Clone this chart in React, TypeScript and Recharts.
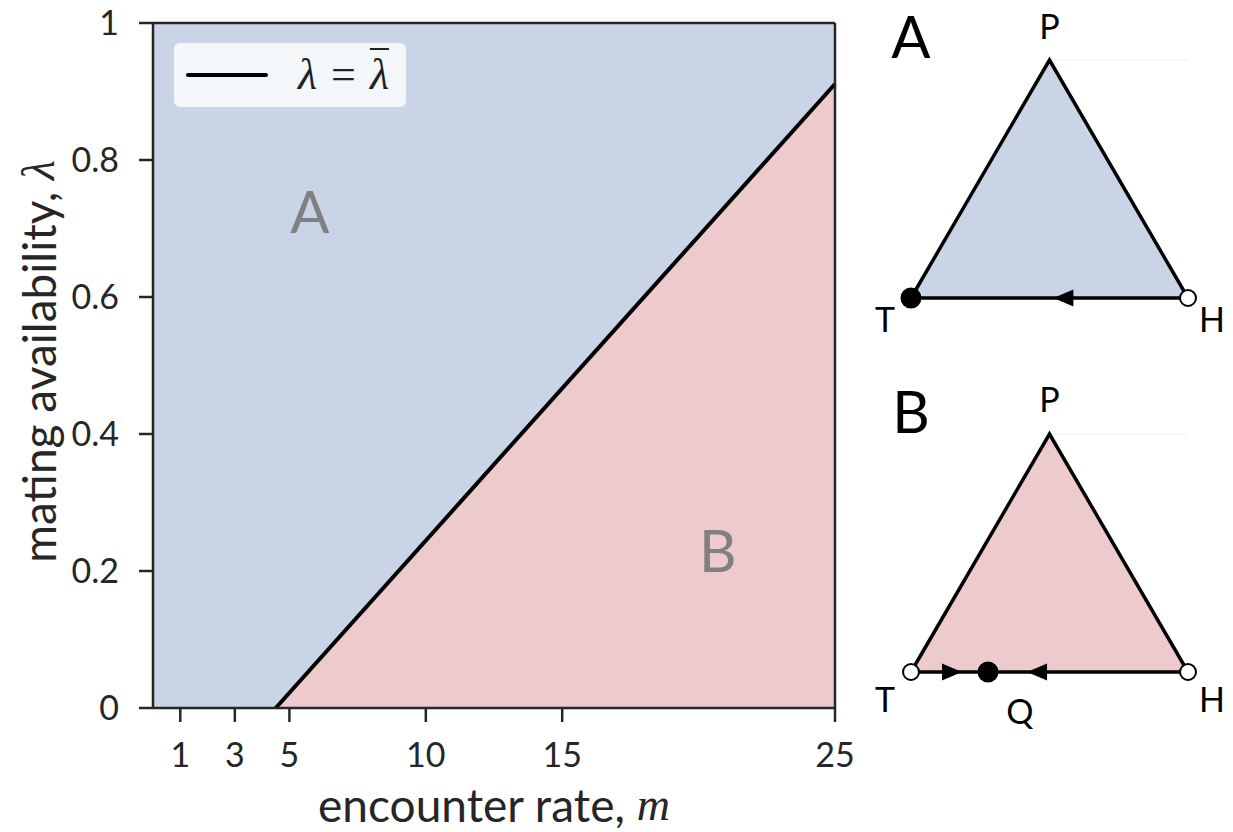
import React from "react";
import {
  Area,
  ComposedChart,
  Legend,
  Line,
  ReferenceArea,
  ReferenceDot,
  ReferenceLine,
  Scatter,
  XAxis,
  YAxis,
} from "recharts";

// boundary lambda = lambda-bar(m), separating regime A (above) from regime B (below)
const boundaryM = [4.5, 25];
const boundaryLambda = [0, 0.911];

const xTicks = [1, 3, 5, 10, 15, 25];
const yTicks = [0, 0.2, 0.4, 0.6, 0.8, 1];

const regionNames = ["A", "B"];
const regionM = [5.75, 20.7];
const regionLambda = [0.724, 0.228];

// simplex T-H-P, base on y = 0
const vertexX = [0, 0.5, 1];
const vertexY = [0, 0.866, 0];
const outlineOrder = [0, 1, 2, 0];

// rest points and flow arrows on the T-H edge of each simplex
const restA = [
  { x: 0, kind: "stable" },
  { x: 1, kind: "unstable" },
];
const restB = [
  { x: 0, kind: "unstable" },
  { x: 0.278, kind: "stable" },
  { x: 1, kind: "unstable" },
];
const arrowsA = [{ x: 0.55, dir: -1 }];
const arrowsB = [
  { x: 0.148, dir: 1 },
  { x: 0.455, dir: -1 },
];

const labelsA = [
  { text: "A", x: 0, y: 0.95, size: 58 },
  { text: "P", x: 0.5, y: 0.985, size: 34 },
  { text: "T", x: -0.094, y: -0.08, size: 34 },
  { text: "H", x: 1.087, y: -0.08, size: 34 },
];
const labelsB = [
  { text: "B", x: 0, y: 0.943, size: 58 },
  { text: "P", x: 0.5, y: 0.99, size: 34 },
  { text: "T", x: -0.094, y: -0.1, size: 34 },
  { text: "H", x: 1.087, y: -0.1, size: 34 },
  { text: "Q", x: 0.393, y: -0.145, size: 34 },
];

const BLUE = "#c9d5e7";
const PINK = "#edcacc";
const INK = "#262626";
const SANS = "Lato, 'Open Sans', sans-serif";
const SERIF = "'Liberation Serif', 'DejaVu Serif', serif";

const boundary = boundaryM.map((m, i) => ({ m, lam: boundaryLambda[i] }));
const triangleFill = vertexX.map((x, i) => ({ x, y: vertexY[i] }));
const triangleOutline = outlineOrder.map((i) => ({ x: vertexX[i], y: vertexY[i] }));

function LegendBox() {
  return (
    <div
      style={{
        width: 232,
        height: 64,
        background: "rgba(255,255,255,0.8)",
        borderRadius: 6,
        display: "flex",
        alignItems: "center",
        boxSizing: "border-box",
        paddingLeft: 12,
      }}
    >
      <div style={{ width: 82, height: 4, background: "#000", borderRadius: 2 }} />
      <div style={{ marginLeft: 30, fontFamily: SERIF, fontSize: 44, color: "#222", lineHeight: 1 }}>
        <span style={{ fontStyle: "italic" }}>λ</span>
        <span style={{ margin: "0 14px" }}>=</span>
        <span style={{ fontStyle: "italic", textDecoration: "overline", textDecorationThickness: 2 }}>λ</span>
      </div>
    </div>
  );
}

function YTitle({ viewBox }: any) {
  const cx = 38;
  const cy = viewBox.y + viewBox.height / 2 - 4;
  return (
    <text
      x={cx}
      y={cy}
      transform={`rotate(-90 ${cx} ${cy})`}
      textAnchor="middle"
      dominantBaseline="central"
      fontFamily={SANS}
      fontSize={46}
      fill={INK}
    >
      mating availability,{" "}
      <tspan fontFamily={SERIF} fontStyle="italic">
        λ
      </tspan>
    </text>
  );
}

function XTitle({ viewBox }: any) {
  const cx = viewBox.x + viewBox.width / 2;
  return (
    <text x={cx} y={804} textAnchor="middle" dominantBaseline="central" fontFamily={SANS} fontSize={46} fill={INK}>
      encounter rate,{" "}
      <tspan fontFamily={SERIF} fontStyle="italic">
        m
      </tspan>
    </text>
  );
}

function RestPoint(props: any) {
  const { cx, cy, payload } = props;
  const stable = payload.kind === "stable";
  return (
    <circle
      cx={cx}
      cy={cy}
      r={stable ? 9.5 : 8}
      fill={stable ? "#000" : "#fff"}
      stroke="#000"
      strokeWidth={2}
    />
  );
}

function FlowArrow(props: any) {
  const { cx, cy, payload } = props;
  const d = payload.dir;
  const tip = cx + d * 10;
  const back = cx - d * 10;
  return <polygon points={`${tip},${cy} ${back},${cy - 8.5} ${back},${cy + 8.5}`} fill="#000" />;
}

function Simplex({
  top,
  fill,
  rest,
  arrows,
  labels,
}: {
  top: number;
  fill: string;
  rest: { x: number; kind: string }[];
  arrows: { x: number; dir: number }[];
  labels: { text: string; x: number; y: number; size: number }[];
}) {
  return (
    <div style={{ position: "absolute", left: 860, top }}>
      <ComposedChart
        width={373}
        height={380}
        data={triangleFill}
        margin={{ top: 60, right: 45, left: 51, bottom: 82 }}
      >
        <XAxis type="number" dataKey="x" domain={[0, 1]} hide />
        <YAxis type="number" dataKey="y" domain={[0, 0.866]} hide />
        <ReferenceLine
          segment={[
            { x: 0.5, y: 0.866 },
            { x: 1, y: 0.866 },
          ]}
          stroke={fill}
          strokeOpacity={0.35}
          strokeWidth={1}
        />
        <Area
          type="linear"
          dataKey="y"
          baseValue={0}
          fill={fill}
          fillOpacity={1}
          stroke="none"
          isAnimationActive={false}
        />
        <Line
          data={triangleOutline}
          type="linear"
          dataKey="y"
          stroke="#000"
          strokeWidth={3.5}
          dot={false}
          strokeLinejoin="miter"
          isAnimationActive={false}
        />
        <Scatter
          data={arrows.map((a) => ({ ...a, y: 0 }))}
          dataKey="y"
          shape={<FlowArrow />}
          isAnimationActive={false}
        />
        <Scatter
          data={rest.map((r) => ({ ...r, y: 0 }))}
          dataKey="y"
          shape={<RestPoint />}
          isAnimationActive={false}
        />
        {labels.map((l) => (
          <ReferenceDot
            key={l.text}
            x={l.x}
            y={l.y}
            r={0}
            ifOverflow="visible"
            fill="none"
            stroke="none"
            label={{
              value: l.text,
              position: "center",
              fontSize: l.size,
              fontFamily: SANS,
              fill: "#000",
            }}
          />
        ))}
      </ComposedChart>
    </div>
  );
}

export default function App() {
  return (
    <div style={{ position: "absolute", left: 0, top: 0, width: 1233, height: 832, background: "#fff" }}>
      <div style={{ position: "absolute", left: 0, top: 0 }}>
        <ComposedChart width={860} height={832} data={boundary} margin={{ top: 23, right: 25, left: 0, bottom: 0 }}>
          <ReferenceArea x1={0} x2={25} y1={0} y2={1} fill={BLUE} fillOpacity={1} stroke="none" />
          <XAxis
            type="number"
            dataKey="m"
            domain={[0, 25]}
            ticks={xTicks}
            height={124}
            tickSize={14}
            tickMargin={21}
            stroke={INK}
            strokeWidth={2.5}
            tick={{ fill: INK, fontSize: 34, fontFamily: SANS }}
            label={<XTitle />}
          />
          <YAxis
            type="number"
            domain={[0, 1]}
            ticks={yTicks}
            width={153}
            tickSize={14}
            tickMargin={20}
            stroke={INK}
            strokeWidth={2.5}
            tick={{ fill: INK, fontSize: 34, fontFamily: SANS }}
            tickFormatter={(v: number) => String(v)}
            label={<YTitle />}
          />
          <Area
            type="linear"
            dataKey="lam"
            baseValue={0}
            fill={PINK}
            fillOpacity={1}
            stroke="none"
            isAnimationActive={false}
          />
          <Line
            type="linear"
            dataKey="lam"
            stroke="#000"
            strokeWidth={4}
            dot={false}
            isAnimationActive={false}
          />
          <ReferenceLine y={1} stroke={INK} strokeWidth={2.5} />
          <ReferenceLine x={25} stroke={INK} strokeWidth={2.5} />
          {regionNames.map((name, i) => (
            <ReferenceDot
              key={name}
              x={regionM[i]}
              y={regionLambda[i]}
              r={0}
              fill="none"
              stroke="none"
              label={{ value: name, position: "center", fontSize: 58, fontFamily: SANS, fill: "#808080" }}
            />
          ))}
          <Legend
            layout="horizontal"
            verticalAlign="middle"
            align="center"
            content={() => <LegendBox />}
            wrapperStyle={{ position: "absolute", left: 174, top: 43, width: 232, height: 64 }}
          />
        </ComposedChart>
      </div>
      <Simplex top={0} fill={BLUE} rest={restA} arrows={arrowsA} labels={labelsA} />
      <Simplex top={374} fill={PINK} rest={restB} arrows={arrowsB} labels={labelsB} />
    </div>
  );
}
